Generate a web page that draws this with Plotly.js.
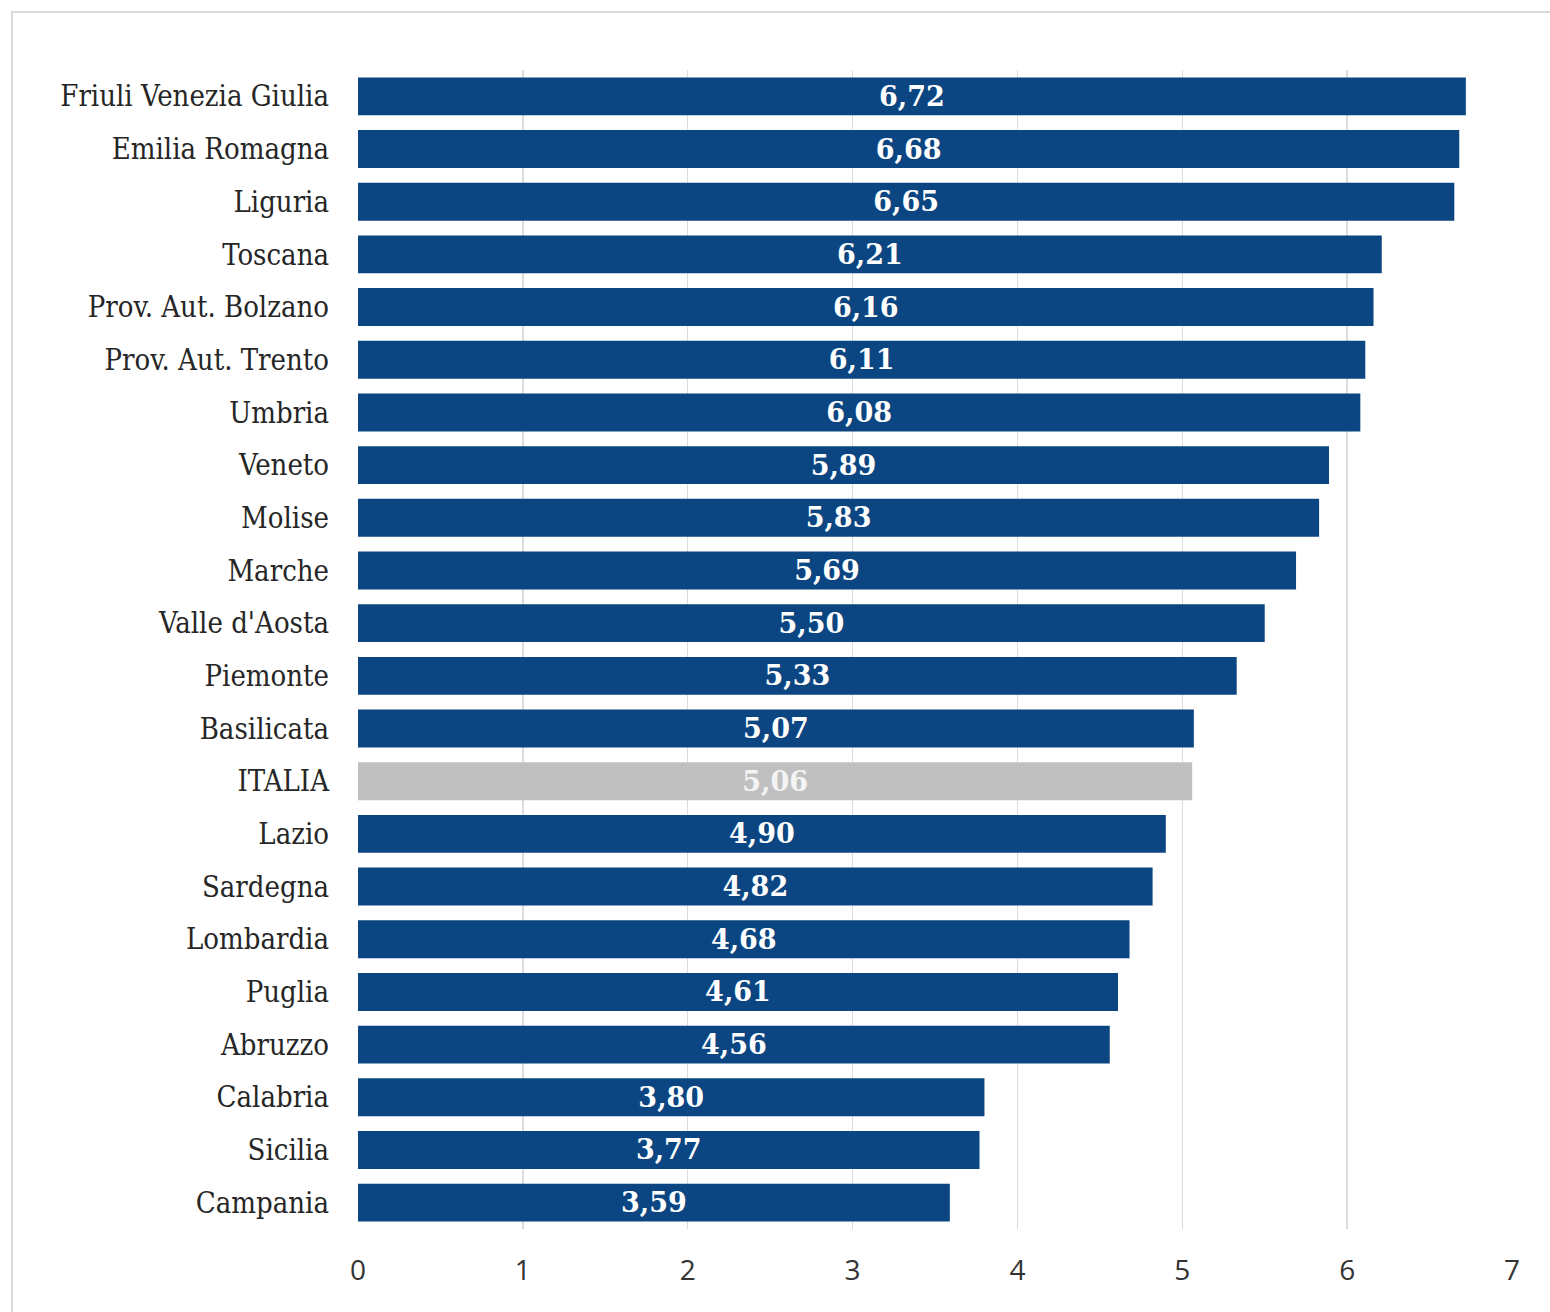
<!DOCTYPE html>
<html>
<head>
<meta charset="utf-8">
<script src="https://cdn.plot.ly/plotly-3.0.1.min.js"></script>
<style>
html,body{margin:0;padding:0;background:#fff;}
#wrap{position:relative;width:1550px;height:1312px;}
#frame{position:absolute;left:11px;top:11px;width:1560px;height:1320px;border-left:2px solid #d9d9d9;border-top:2px solid #d9d9d9;box-sizing:border-box;pointer-events:none;}
#chart{position:absolute;left:0;top:0;width:1550px;height:1312px;}
</style>
</head>
<body>
<div id="wrap">
<div id="chart"></div>
<div id="frame"></div>
</div>
<script>
const regions = ["Friuli Venezia Giulia","Emilia Romagna","Liguria","Toscana","Prov. Aut. Bolzano","Prov. Aut. Trento","Umbria","Veneto","Molise","Marche","Valle d'Aosta","Piemonte","Basilicata","ITALIA","Lazio","Sardegna","Lombardia","Puglia","Abruzzo","Calabria","Sicilia","Campania"];
const values = [6.72,6.68,6.65,6.21,6.16,6.11,6.08,5.89,5.83,5.69,5.50,5.33,5.07,5.06,4.90,4.82,4.68,4.61,4.56,3.80,3.77,3.59];
const tickVals = [0,1,2,3,4,5,6,7];

const barColor = "#0b4682";
const italiaColor = "#c0c0c0";
const colors = regions.map(r => r === "ITALIA" ? italiaColor : barColor);
const textColors = regions.map(r => r === "ITALIA" ? "#f4f4f4" : "#ffffff");
const labels = values.map(v => v.toFixed(2).replace(".", ","));

const trace = {
  type: "bar",
  orientation: "h",
  y: regions,
  x: values,
  marker: {color: colors, line: {width: 0}},
  text: labels,
  textposition: "inside",
  insidetextanchor: "middle",
  textangle: 0,
  textfont: {family: "DejaVu Serif", size: 27, color: textColors, weight: "bold"},
  hoverinfo: "none",
  cliponaxis: false
};

const layout = {
  width: 1550,
  height: 1312,
  margin: {l: 358, r: 38, t: 70, b: 83},
  paper_bgcolor: "#ffffff",
  plot_bgcolor: "#ffffff",
  bargap: 0.28,
  showlegend: false,
  uniformtext: {mode: false},
  xaxis: {
    range: [0, 7],
    tickvals: tickVals,
    ticktext: tickVals.map(String),
    showgrid: true,
    gridcolor: "#dcdcdc",
    gridwidth: 1.5,
    zeroline: false,
    showline: false,
    ticks: "",
    ticklabelstandoff: 22,
    tickfont: {family: "Open Sans", size: 28, color: "#333333"},
    fixedrange: true
  },
  yaxis: {
    type: "category",
    categoryorder: "array",
    categoryarray: regions,
    autorange: "reversed",
    showgrid: false,
    zeroline: false,
    showline: false,
    ticks: "",
    ticklabelstandoff: 28,
    tickfont: {family: "DejaVu Serif Condensed, DejaVu Serif", size: 29, color: "#262626"},
    fixedrange: true
  }
};

Plotly.newPlot("chart", [trace], layout, {displayModeBar: false, staticPlot: true});
</script>
</body>
</html>
